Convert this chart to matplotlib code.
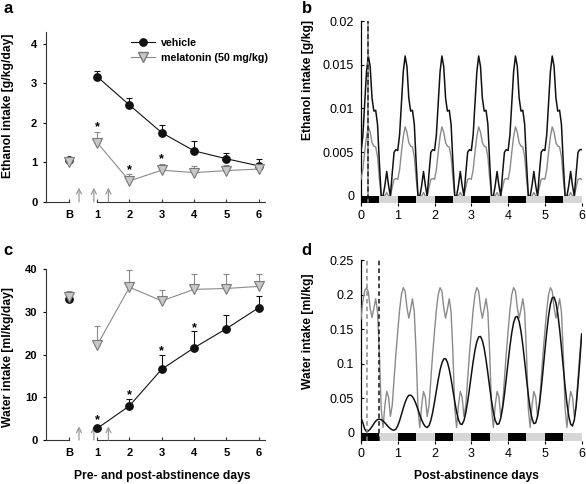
import numpy as np
import matplotlib
matplotlib.use('Agg')
import matplotlib.pyplot as plt
from matplotlib.lines import Line2D

plt.rcParams['font.family'] = ['Liberation Sans', 'DejaVu Sans']

# ---- panels a / c : daily intake ----
day_labels = ['B', '1', '2', '3', '4', '5', '6']
day_x = [0.13, 1, 2, 3, 4, 5, 6]

eth_vehicle = [1.05, 3.17, 2.45, 1.75, 1.29, 1.09, 0.91]
eth_vehicle_err = [0.05, 0.14, 0.18, 0.20, 0.24, 0.14, 0.17]
eth_melatonin = [1.02, 1.50, 0.53, 0.80, 0.74, 0.79, 0.83]
eth_melatonin_err = [0.06, 0.26, 0.17, 0.15, 0.17, 0.14, 0.10]
eth_star_x = [1, 2, 3]
eth_star_y = [1.88, 0.80, 1.08]

wat_vehicle = [33.0, 2.7, 8.0, 16.6, 21.6, 26.1, 31.0]
wat_vehicle_err = [0.8, 0.5, 1.6, 3.4, 3.9, 3.3, 2.7]
wat_melatonin = [33.6, 22.2, 35.8, 32.6, 35.3, 35.5, 36.0]
wat_melatonin_err = [1.2, 4.6, 4.0, 2.6, 3.5, 3.3, 2.8]
wat_star_x = [1, 2, 3, 4]
wat_star_y = [4.7, 10.4, 20.8, 26.2]

injection_x = [0.44, 0.9, 1.35]

# ---- panels b / d : fitted intake, sampled every 0.05 day ----
t_days = np.linspace(0, 6, 121)

eth_fit_vehicle = [
    0.0050, 0.0068, 0.0105, 0.0142, 0.0160, 0.0148, 0.0112, 0.0097, 0.0098, 0.0082,
    0.0038, 0.0000, 0.0000, 0.0012, 0.0028, 0.0012, 0.0000, 0.0026, 0.0050, 0.0053,
    0.0052, 0.0070, 0.0106, 0.0142, 0.0160, 0.0148, 0.0112, 0.0097, 0.0098, 0.0082,
    0.0038, 0.0000, 0.0000, 0.0012, 0.0028, 0.0012, 0.0000, 0.0026, 0.0050, 0.0053,
    0.0052, 0.0070, 0.0106, 0.0142, 0.0160, 0.0148, 0.0112, 0.0097, 0.0098, 0.0082,
    0.0038, 0.0000, 0.0000, 0.0012, 0.0028, 0.0012, 0.0000, 0.0026, 0.0050, 0.0053,
    0.0052, 0.0070, 0.0106, 0.0142, 0.0160, 0.0148, 0.0112, 0.0097, 0.0098, 0.0082,
    0.0038, 0.0000, 0.0000, 0.0012, 0.0028, 0.0012, 0.0000, 0.0026, 0.0050, 0.0053,
    0.0052, 0.0070, 0.0106, 0.0142, 0.0160, 0.0148, 0.0112, 0.0097, 0.0098, 0.0082,
    0.0038, 0.0000, 0.0000, 0.0012, 0.0028, 0.0012, 0.0000, 0.0026, 0.0050, 0.0053,
    0.0052, 0.0070, 0.0106, 0.0142, 0.0160, 0.0148, 0.0112, 0.0097, 0.0098, 0.0082,
    0.0038, 0.0000, 0.0000, 0.0012, 0.0028, 0.0012, 0.0000, 0.0026, 0.0050, 0.0053,
    0.0053]
eth_fit_melatonin = [
    0.0019, 0.0030, 0.0050, 0.0068, 0.0079, 0.0073, 0.0061, 0.0057, 0.0056, 0.0045,
    0.0020, 0.0000, 0.0000, 0.0000, 0.0004, 0.0000, 0.0000, 0.0010, 0.0019, 0.0020,
    0.0019, 0.0030, 0.0050, 0.0068, 0.0079, 0.0073, 0.0061, 0.0057, 0.0056, 0.0045,
    0.0020, 0.0000, 0.0000, 0.0000, 0.0004, 0.0000, 0.0000, 0.0010, 0.0019, 0.0020,
    0.0019, 0.0030, 0.0050, 0.0068, 0.0079, 0.0073, 0.0061, 0.0057, 0.0056, 0.0045,
    0.0020, 0.0000, 0.0000, 0.0000, 0.0004, 0.0000, 0.0000, 0.0010, 0.0019, 0.0020,
    0.0019, 0.0030, 0.0050, 0.0068, 0.0079, 0.0073, 0.0061, 0.0057, 0.0056, 0.0045,
    0.0020, 0.0000, 0.0000, 0.0000, 0.0004, 0.0000, 0.0000, 0.0010, 0.0019, 0.0020,
    0.0019, 0.0030, 0.0050, 0.0068, 0.0079, 0.0073, 0.0061, 0.0057, 0.0056, 0.0045,
    0.0020, 0.0000, 0.0000, 0.0000, 0.0004, 0.0000, 0.0000, 0.0010, 0.0019, 0.0020,
    0.0019, 0.0030, 0.0050, 0.0068, 0.0079, 0.0073, 0.0061, 0.0057, 0.0056, 0.0045,
    0.0020, 0.0000, 0.0000, 0.0000, 0.0004, 0.0000, 0.0000, 0.0010, 0.0019, 0.0020,
    0.0019]

wat_fit_vehicle = [
    0.0220, 0.0150, 0.0060, 0.0020, 0.0030, 0.0056, 0.0093, 0.0135, 0.0171, 0.0194,
    0.0200, 0.0192, 0.0173, 0.0147, 0.0117, 0.0087, 0.0062, 0.0046, 0.0040, 0.0057,
    0.0105, 0.0178, 0.0267, 0.0359, 0.0443, 0.0508, 0.0544, 0.0548, 0.0525, 0.0479,
    0.0414, 0.0339, 0.0260, 0.0188, 0.0131, 0.0093, 0.0080, 0.0106, 0.0183, 0.0300,
    0.0450, 0.0610, 0.0770, 0.0910, 0.1010, 0.1070, 0.1075, 0.1023, 0.0920, 0.0780,
    0.0616, 0.0451, 0.0304, 0.0193, 0.0130, 0.0125, 0.0180, 0.0294, 0.0451, 0.0640,
    0.0840, 0.1033, 0.1199, 0.1320, 0.1389, 0.1395, 0.1336, 0.1220, 0.1057, 0.0862,
    0.0658, 0.0463, 0.0300, 0.0184, 0.0125, 0.0133, 0.0214, 0.0359, 0.0555, 0.0785,
    0.1025, 0.1255, 0.1451, 0.1596, 0.1676, 0.1684, 0.1612, 0.1470, 0.1272, 0.1035,
    0.0785, 0.0548, 0.0350, 0.0208, 0.0136, 0.0146, 0.0240, 0.0410, 0.0640, 0.0910,
    0.1190, 0.1460, 0.1690, 0.1860, 0.1953, 0.1963, 0.1884, 0.1725, 0.1502, 0.1237,
    0.0949, 0.0670, 0.0426, 0.0240, 0.0128, 0.0101, 0.0188, 0.0386, 0.0700, 0.1040,
    0.1430]
wat_fit_melatonin = [
    0.165, 0.190, 0.205, 0.210, 0.204, 0.180, 0.167, 0.180, 0.194, 0.175,
    0.115, 0.035, 0.008, 0.040, 0.060, 0.052, 0.024, 0.040, 0.078, 0.115,
    0.147, 0.178, 0.200, 0.210, 0.205, 0.181, 0.166, 0.179, 0.194, 0.175,
    0.115, 0.035, 0.008, 0.040, 0.060, 0.052, 0.024, 0.040, 0.078, 0.115,
    0.147, 0.178, 0.200, 0.210, 0.205, 0.181, 0.166, 0.179, 0.194, 0.175,
    0.115, 0.035, 0.008, 0.040, 0.060, 0.052, 0.024, 0.040, 0.078, 0.115,
    0.147, 0.178, 0.200, 0.210, 0.205, 0.181, 0.166, 0.179, 0.194, 0.175,
    0.115, 0.035, 0.008, 0.040, 0.060, 0.052, 0.024, 0.040, 0.078, 0.115,
    0.147, 0.178, 0.200, 0.210, 0.205, 0.181, 0.166, 0.179, 0.194, 0.175,
    0.115, 0.035, 0.008, 0.040, 0.060, 0.052, 0.024, 0.040, 0.078, 0.115,
    0.147, 0.178, 0.200, 0.210, 0.205, 0.181, 0.166, 0.179, 0.194, 0.175,
    0.115, 0.035, 0.008, 0.040, 0.060, 0.052, 0.024, 0.040, 0.078, 0.115,
    0.143]

eth_peak_day = [0.2]
wat_peak_day_vehicle = [0.5]
wat_peak_day_melatonin = [0.17]

dark_start = [0, 1, 2, 3, 4, 5]
light_start = [0.5, 1.5, 2.5, 3.5, 4.5, 5.5]

BLACK = '#111111'
GREY_LINE = '#8a8a8a'
GREY_FACE = '#c8c8c8'
GREY_EDGE = '#7a7a7a'

fig = plt.figure(figsize=(5.86, 4.84), dpi=100)


def daily_panel(ax, veh, veh_err, mel, mel_err, star_x, star_y, ymax, step, arrow_h):
    zeros = np.zeros(len(day_x))
    ax.errorbar(day_x, veh, yerr=[zeros, veh_err], fmt='none', ecolor=BLACK,
                elinewidth=0.8, capsize=2.5, capthick=0.8, zorder=2)
    ax.errorbar(day_x, mel, yerr=[zeros, mel_err], fmt='none', ecolor=GREY_LINE,
                elinewidth=0.8, capsize=2.5, capthick=0.8, zorder=2)
    ax.plot(day_x[1:], veh[1:], color=BLACK, lw=0.8, zorder=3)
    ax.plot(day_x[1:], mel[1:], color=GREY_LINE, lw=0.8, zorder=3)
    ax.plot(day_x, veh, 'o', color=BLACK, ms=5.3, zorder=4)
    ax.plot(day_x, mel, 'v', mfc=GREY_FACE, mec=GREY_EDGE, mew=0.8, ms=6.8, zorder=5)
    for sx, sy in zip(star_x, star_y):
        ax.text(sx, sy, '*', ha='center', va='center', fontsize=9, fontweight='bold')
    for ix in injection_x:
        ax.annotate('', xy=(ix, arrow_h), xytext=(ix, 0),
                    arrowprops=dict(arrowstyle='->', color='#9a9a9a', lw=0.9,
                                    shrinkA=0, shrinkB=0, mutation_scale=9))
    ax.set_xlim(-0.59, 6.19)
    ax.set_ylim(0, ymax)
    ax.set_yticks(np.arange(0, ymax + 0.001, step))
    ax.set_xticks(day_x)
    ax.set_xticklabels(day_labels)
    for s in ['top', 'right', 'bottom']:
        ax.spines[s].set_visible(False)
    ax.spines['left'].set_linewidth(0.8)
    ax.spines['left'].set_color('#333333')
    # x axis is broken between baseline and day 1
    xf = ax.get_xaxis_transform()
    ax.plot([-0.59, day_x[0]], [0, 0], color='#333333', lw=0.8, transform=xf,
            clip_on=False, zorder=1)
    ax.plot([day_x[1], 6.19], [0, 0], color='#333333', lw=0.8, transform=xf,
            clip_on=False, zorder=1)
    ax.tick_params(axis='x', direction='in', length=2.5, width=0.8, pad=6, labelsize=8,
                   color='#333333')
    ax.tick_params(axis='y', direction='out', length=2, width=0.8, pad=4, labelsize=8)
    for lab in ax.get_xticklabels() + ax.get_yticklabels():
        lab.set_fontweight('bold')


def fit_panel(ax, veh, mel, ymax, yticks, yticklabels, bar_h):
    ax.plot(t_days, mel, color=GREY_LINE, lw=1.0, zorder=3)
    ax.plot(t_days, veh, color=BLACK, lw=1.1, zorder=4)
    ax.bar(dark_start, bar_h, width=0.5, bottom=-bar_h, align='edge',
           color='black', zorder=5)
    ax.bar(light_start, bar_h, width=0.5, bottom=-bar_h, align='edge',
           color='#d6d6d6', zorder=5)
    ax.set_xlim(0, 6)
    ax.set_ylim(-bar_h, ymax)
    ax.set_xticks(range(7))
    ax.set_yticks(yticks)
    ax.set_yticklabels(yticklabels)
    for s in ['top', 'right', 'bottom']:
        ax.spines[s].set_visible(False)
    ax.spines['left'].set_linewidth(0.9)
    ax.tick_params(axis='x', direction='out', length=2, width=0.8, pad=3, labelsize=9)
    ax.tick_params(axis='y', direction='in', length=2.5, width=0.8, pad=5, labelsize=9)


# a
ax_a = fig.add_axes([0.078, 0.583, 0.374, 0.351])
daily_panel(ax_a, eth_vehicle, eth_vehicle_err, eth_melatonin, eth_melatonin_err,
            eth_star_x, eth_star_y, 4.3, 1, 0.36)
ax_a.set_ylabel('Ethanol intake [g/kg/day]', fontsize=8.7, fontweight='bold')
ax_a.yaxis.set_label_coords(-0.145, 0.565)
handles = [Line2D([], [], color=BLACK, lw=0.8, marker='o', ms=5.3),
           Line2D([], [], color=GREY_LINE, lw=0.8, marker='v', mfc=GREY_FACE,
                  mec=GREY_EDGE, ms=6.8)]
ax_a.legend(handles, ['vehicle', 'melatonin (50 mg/kg)'], loc='upper left',
            bbox_to_anchor=(0.37, 0.99), frameon=False, handlelength=2.2,
            handletextpad=0.6, labelspacing=0.45, borderaxespad=0,
            prop={'size': 7.7, 'weight': 'bold'})

# c
ax_c = fig.add_axes([0.078, 0.0909, 0.374, 0.3527])
daily_panel(ax_c, wat_vehicle, wat_vehicle_err, wat_melatonin, wat_melatonin_err,
            wat_star_x, wat_star_y, 40, 10, 3.2)
ax_c.set_ylabel('Water intake [ml/kg/day]', fontsize=8.7, fontweight='bold')
ax_c.yaxis.set_label_coords(-0.145, 0.488)
ax_c.set_xlabel('Pre- and post-abstinence days', fontsize=8.7, fontweight='bold')
ax_c.xaxis.set_label_coords(0.533, -0.176)

# b
ax_b = fig.add_axes([0.616, 0.5806, 0.3766, 0.376])
fit_panel(ax_b, eth_fit_vehicle, eth_fit_melatonin, 0.02,
          [0, 0.005, 0.01, 0.015, 0.02], ['0', '0.005', '0.01', '0.015', '0.02'], 0.0008)
for x in eth_peak_day:
    ax_b.axvline(x, color=GREY_LINE, lw=1.1, ls=(0, (3, 2)), zorder=6)
    ax_b.axvline(x, color=BLACK, lw=1.1, ls=(2.5, (3, 2)), zorder=6)
ax_b.set_ylabel('Ethanol intake [g/kg]', fontsize=8.7, fontweight='bold')
ax_b.yaxis.set_label_coords(-0.215, 0.676)

# d
ax_d = fig.add_axes([0.616, 0.0888, 0.3766, 0.374])
fit_panel(ax_d, wat_fit_vehicle, wat_fit_melatonin, 0.25,
          [0, 0.05, 0.1, 0.15, 0.2, 0.25], ['0', '0.05', '0.1', '0.15', '0.2', '0.25'], 0.0116)
for x in wat_peak_day_melatonin:
    ax_d.axvline(x, color=GREY_LINE, lw=1.1, ls=(0, (3, 2)), zorder=6)
for x in wat_peak_day_vehicle:
    ax_d.axvline(x, color=BLACK, lw=1.1, ls=(0, (3, 2)), zorder=6)
ax_d.set_ylabel('Water intake [ml/kg]', fontsize=8.7, fontweight='bold')
ax_d.yaxis.set_label_coords(-0.215, 0.604)
ax_d.set_xlabel('Post-abstinence days', fontsize=8.7, fontweight='bold')
ax_d.xaxis.set_label_coords(0.524, -0.16)

# panel letters
for lx, ly, letter in [(0.006, 0.973, 'a'), (0.515, 0.973, 'b'),
                       (0.006, 0.473, 'c'), (0.515, 0.473, 'd')]:
    fig.text(lx, ly, letter, fontsize=12, fontweight='bold', va='baseline')

fig.savefig('out.png', dpi=100)
